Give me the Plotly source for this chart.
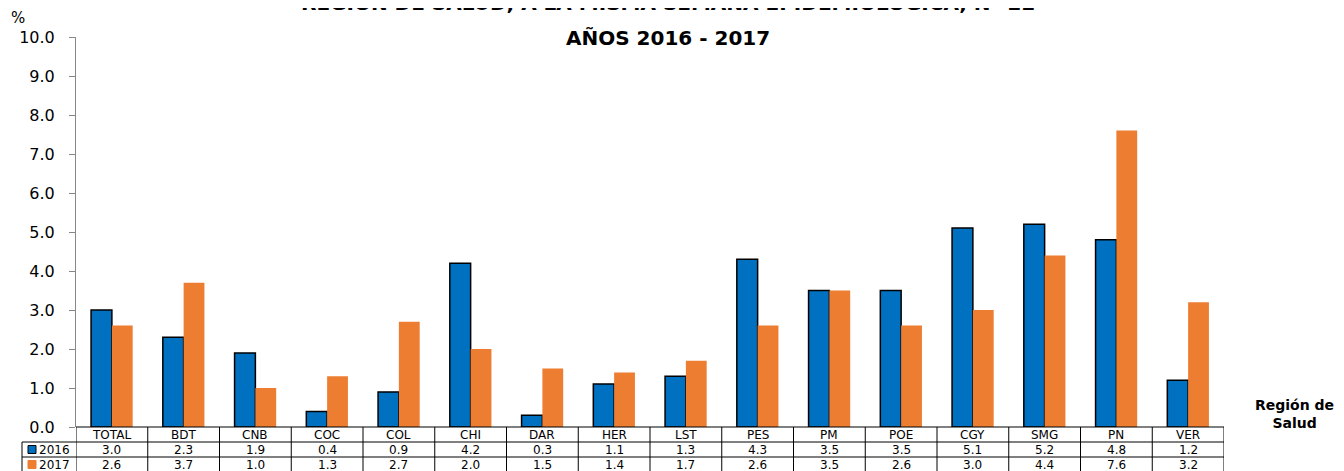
import plotly.graph_objects as go

categories = ["TOTAL", "BDT", "CNB", "COC", "COL", "CHI", "DAR", "HER", "LST",
              "PES", "PM", "POE", "CGY", "SMG", "PN", "VER"]
values_2016 = [3.0, 2.3, 1.9, 0.4, 0.9, 4.2, 0.3, 1.1, 1.3, 4.3, 3.5, 3.5, 5.1, 5.2, 4.8, 1.2]
values_2017 = [2.6, 3.7, 1.0, 1.3, 2.7, 2.0, 1.5, 1.4, 1.7, 2.6, 3.5, 2.6, 3.0, 4.4, 7.6, 3.2]
series_names = ["2016", "2017"]
y_ticks = [0, 1, 2, 3, 4, 5, 6, 7, 8, 9, 10]

BLUE = "#0070C0"
ORANGE = "#ED7D31"
FONT = "DejaVu Sans, Liberation Sans, Arial, sans-serif"

# page body has an 8px margin; compensate so the plot area lands at screen (76..1224, 37..427)
OFF = 8
PL, PT, PR, PB = 76, 37, 1224, 427   # plot area in screen pixels
plot_w = PR - PL
plot_h = PB - PT
W, H = 1344 - OFF, 471 - OFF
L, T = PL - OFF, PT - OFF
R = W - L - plot_w
B = H - T - plot_h


def py(px_below):  # pixels below the x axis -> paper y
    return -px_below / plot_h


def px(xpix):  # absolute screen pixel x -> paper x
    return (xpix - PL) / plot_w


fig = go.Figure()
fig.add_trace(go.Bar(x=categories, y=values_2016, name=series_names[0],
                     marker=dict(color=BLUE, line=dict(color="black", width=1.5))))
fig.add_trace(go.Bar(x=categories, y=values_2017, name=series_names[1],
                     marker=dict(color=ORANGE, line=dict(width=0))))

shapes = []
annotations = []
row_h = 15
# horizontal table lines
for k in [1, 2, 3]:
    shapes.append(dict(type="line", xref="paper", yref="paper",
                       x0=px(22), x1=1, y0=py(row_h * k), y1=py(row_h * k),
                       line=dict(color="black", width=1)))
shapes.append(dict(type="line", xref="paper", yref="paper",
                   x0=0, x1=1, y0=0, y1=0, line=dict(color="black", width=1)))
# vertical lines at category boundaries
for i in range(len(categories) + 1):
    shapes.append(dict(type="line", xref="x", yref="paper",
                       x0=i - 0.5, x1=i - 0.5, y0=0, y1=py(row_h * 3),
                       line=dict(color="black", width=1)))
shapes.append(dict(type="line", xref="paper", yref="paper",
                   x0=px(22), x1=px(22), y0=py(row_h), y1=py(row_h * 3),
                   line=dict(color="black", width=1)))
# legend keys in table
for k, (col, name) in enumerate([(BLUE, series_names[0]), (ORANGE, series_names[1])]):
    yc = row_h * (k + 1) + row_h / 2
    shapes.append(dict(type="rect", xref="paper", yref="paper",
                       x0=px(28), x1=px(36), y0=py(yc - 4), y1=py(yc + 4),
                       fillcolor=col,
                       line=dict(color="black" if k == 0 else col, width=1)))
    annotations.append(dict(text=name, xref="paper", yref="paper",
                            x=px(37), y=py(yc), xanchor="left", yanchor="middle",
                            showarrow=False, font=dict(family=FONT, size=12, color="black")))

for i, c in enumerate(categories):
    annotations.append(dict(text=c, xref="x", yref="paper", x=c, y=py(row_h / 2),
                            showarrow=False, yanchor="middle",
                            font=dict(family=FONT, size=12, color="black")))
    annotations.append(dict(text=f"{values_2016[i]:.1f}", xref="x", yref="paper", x=c,
                            y=py(row_h * 1.5), showarrow=False, yanchor="middle",
                            font=dict(family=FONT, size=12, color="black")))
    annotations.append(dict(text=f"{values_2017[i]:.1f}", xref="x", yref="paper", x=c,
                            y=py(row_h * 2.5), showarrow=False, yanchor="middle",
                            font=dict(family=FONT, size=12, color="black")))

# titles
annotations.append(dict(text="<b>REGIÓN DE SALUD, A LA MISMA SEMANA EPIDEMIOLÓGICA, N° 22</b>",
                        xref="paper", yref="paper", x=px(668), y=1 + 34 / plot_h,
                        xanchor="center", yanchor="middle", showarrow=False,
                        font=dict(family=FONT, size=20, color="black")))
annotations.append(dict(text="<b>AÑOS 2016 - 2017</b>",
                        xref="paper", yref="paper", x=px(668), y=1 - 1 / plot_h,
                        xanchor="center", yanchor="middle", showarrow=False,
                        font=dict(family=FONT, size=20, color="black")))
annotations.append(dict(text="%", xref="paper", yref="paper", x=px(18), y=1 + 19 / plot_h,
                        xanchor="center", yanchor="middle", showarrow=False,
                        font=dict(family=FONT, size=15, color="black")))
annotations.append(dict(text="<b>Región de<br>Salud</b>", xref="paper", yref="paper",
                        x=px(1294), y=py(-13), xanchor="center", yanchor="middle",
                        showarrow=False, align="center",
                        font=dict(family=FONT, size=14, color="black")))

fig.update_layout(
    width=W, height=H,
    margin=dict(l=L, r=R, t=T, b=B, pad=0, autoexpand=False),
    paper_bgcolor="white", plot_bgcolor="white",
    barmode="group", bargap=0.42, bargroupgap=0,
    showlegend=False,
    shapes=shapes, annotations=annotations,
    font=dict(family=FONT, color="black"),
)
fig.update_xaxes(showticklabels=False, ticks="", showgrid=False, zeroline=False,
                 showline=False, range=[-0.5, len(categories) - 0.5])
fig.update_yaxes(range=[0, 10], tickvals=y_ticks, tickformat=".1f", showgrid=False,
                 zeroline=False, showline=True, linecolor="#888888", linewidth=1,
                 ticks="outside", ticklen=6, tickcolor="#888888", ticklabelstandoff=11,
                 tickfont=dict(family=FONT, size=16, color="black"))

fig.write_html("out.html")
